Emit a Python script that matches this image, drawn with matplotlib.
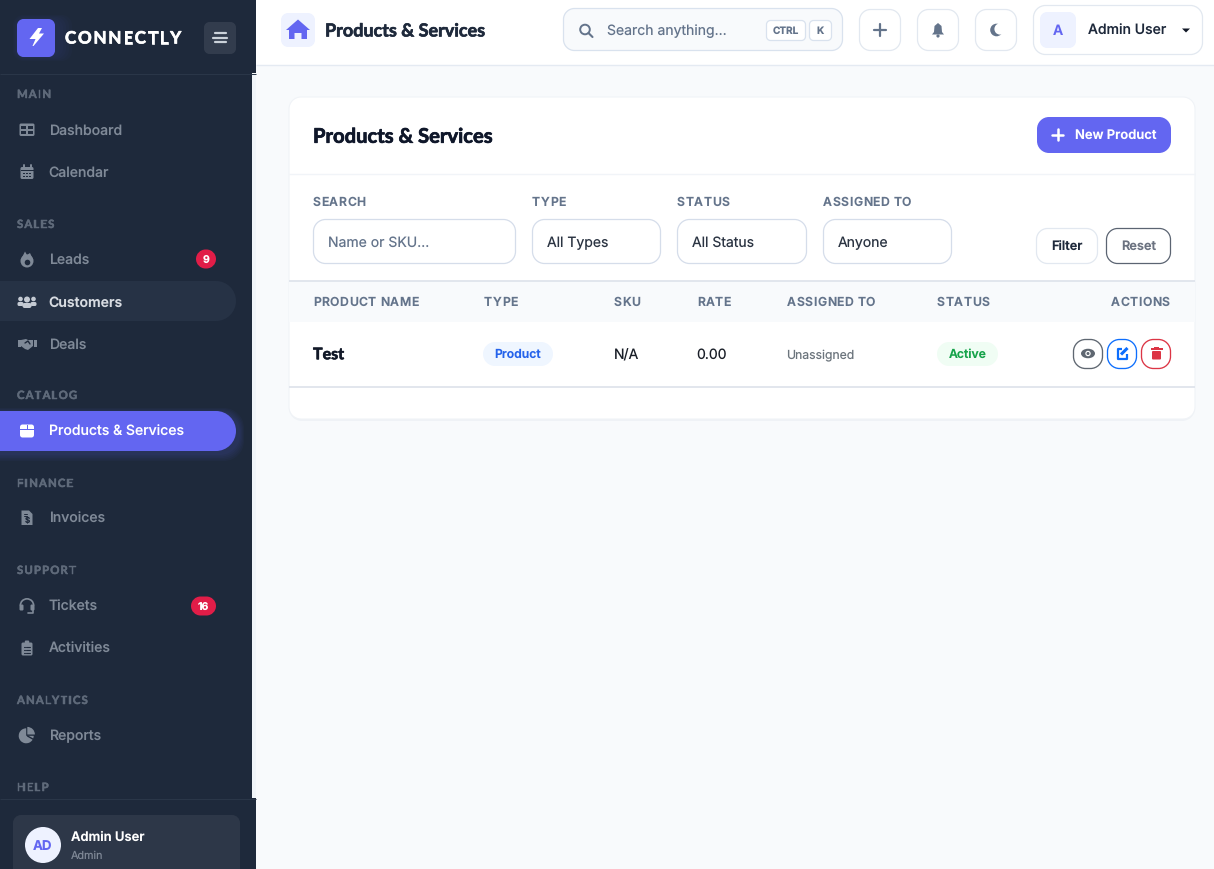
import matplotlib
matplotlib.use("Agg")
import numpy as np
import matplotlib.pyplot as plt
from matplotlib.patches import PathPatch, Rectangle, Circle, Polygon, Wedge, Ellipse
from matplotlib.path import Path
from matplotlib import font_manager as fm
from matplotlib.ft2font import LoadFlags
import matplotlib.patheffects as pe

plt.rcParams["text.hinting"] = "no_hinting"
plt.rcParams["text.hinting_factor"] = 1

# ---------- content ----------
brand = "CONNECTLY"
page_title = "Products & Services"
search_hint = "Search anything..."
kbd_keys = ["CTRL", "K"]
user_name = "Admin User"
user_role = "Admin"
sections = ["MAIN", "SALES", "CATALOG", "FINANCE", "SUPPORT", "ANALYTICS", "HELP"]
nav_labels = ["Dashboard", "Calendar", "Leads", "Customers", "Deals", "Products & Services",
              "Invoices", "Tickets", "Activities", "Reports"]
badge_values = {"Leads": "9", "Tickets": "16"}
filter_labels = ["SEARCH", "TYPE", "STATUS", "ASSIGNED TO"]
filter_values = ["Name or SKU...", "All Types", "All Status", "Anyone"]
table_columns = ["PRODUCT NAME", "TYPE", "SKU", "RATE", "ASSIGNED TO", "STATUS", "ACTIONS"]
row_values = ["Test", "Product", "N/A", "0.00", "Unassigned", "Active"]

# ---------- layout (pixels) ----------
section_y = [94, 224, 395, 483, 570, 700, 787]
nav_y = [130, 172, 259, 302, 344, 431, 518, 606, 648, 735]
filter_x0 = [313, 532, 677, 823]
filter_x1 = [516, 661, 807, 952]
col_x = [313, 484, 614, 697, 787, 937, 1170]

DARK = "#1e293b"
PRIMARY = "#6366f1"
MUTED = "#7f8997"
SECT = "#5f6a7a"
SLATE = "#64748b"
INK = "#1e293b"

fig = plt.figure(figsize=(12.14, 8.69), dpi=100, facecolor="#f8fafc")
ax = fig.add_axes([0, 0, 1, 1])
ax.set_xlim(0, 1214)
ax.set_ylim(869, 0)
ax.axis("off")

K = 0.5523


def box(x0, y0, x1, y1, r=0, fc="white", ec="none", lw=1.0, z=2, alpha=None):
    if r > 0:
        r = min(r, (x1 - x0) / 2, (y1 - y0) / 2)
        c = r * (1 - K)
        v = [(x0 + r, y0), (x1 - r, y0), (x1 - c, y0), (x1, y0 + c), (x1, y0 + r), (x1, y1 - r),
             (x1, y1 - c), (x1 - c, y1), (x1 - r, y1), (x0 + r, y1), (x0 + c, y1), (x0, y1 - c),
             (x0, y1 - r), (x0, y0 + r), (x0, y0 + c), (x0 + c, y0), (x0 + r, y0), (x0 + r, y0)]
        code = [Path.MOVETO, Path.LINETO, Path.CURVE4, Path.CURVE4, Path.CURVE4, Path.LINETO,
                Path.CURVE4, Path.CURVE4, Path.CURVE4, Path.LINETO, Path.CURVE4, Path.CURVE4, Path.CURVE4,
                Path.LINETO, Path.CURVE4, Path.CURVE4, Path.CURVE4, Path.CLOSEPOLY]
        p = PathPatch(Path(v, code), fc=fc, ec=ec, lw=lw, zorder=z, alpha=alpha)
    else:
        p = Rectangle((x0, y0), x1 - x0, y1 - y0, fc=fc, ec=ec, lw=lw, zorder=z, alpha=alpha)
    ax.add_patch(p)
    return p


def txt(x, y, s, px=14, color=INK, weight="normal", ha="left", family="Inter", z=6, bold=0):
    t = ax.text(x, y + 0.36 * px, s, fontsize=px * 0.72, color=color, fontweight=weight, ha=ha,
                va="baseline", family=family, zorder=z)
    if bold:
        t.set_path_effects([pe.withStroke(linewidth=bold, foreground=color)])
    return t


def spaced(x, y, s, px, color, weight="normal", gap=0.5, family="Inter", ha="left", bold=0, z=6):
    """Letter-spaced text: each glyph placed from the font's own advance."""
    font = fm.get_font(fm.findfont(fm.FontProperties(family=family, weight=weight)))
    font.set_size(px * 0.72, 100)
    adv = [font.load_char(ord(c), flags=LoadFlags.NO_HINTING).linearHoriAdvance / 65536.0 for c in s]
    total = sum(adv) + gap * (len(s) - 1)
    cur = x - total if ha == "right" else x
    for ch, a in zip(s, adv):
        if ch != " ":
            t = ax.text(cur, y, ch, fontsize=px * 0.72, color=color, fontweight=weight,
                        family=family, va="baseline", ha="left", zorder=z)
            if bold:
                t.set_path_effects([pe.withStroke(linewidth=bold, foreground=color)])
        cur += a + gap


def line(xs, ys, color, lw=1.0, z=5, cap="round"):
    ax.plot(xs, ys, color=color, lw=lw, zorder=z, solid_capstyle=cap, solid_joinstyle="round")


def poly(pts, fc, z=5):
    ax.add_patch(Polygon(pts, closed=True, fc=fc, ec="none", zorder=z))


def circ(x, y, r, fc="none", ec="none", lw=1.0, z=5):
    ax.add_patch(Circle((x, y), r, fc=fc, ec=ec, lw=lw, zorder=z))


# ---------- icons ----------
def ic_grid(cx, cy, c):
    box(cx - 7.5, cy - 6.5, cx + 7.5, cy + 6, 1.5, fc=c, z=5)
    for dx in (-5.7, 1):
        for dy in (-4.3, 0.8):
            box(cx + dx, cy + dy, cx + dx + 4.7, cy + dy + 3.5, 0, fc=DARK, z=5.1)


def ic_calendar(cx, cy, c):
    box(cx - 6.5, cy - 5, cx + 6.5, cy + 7, 1.5, fc=c, z=5)
    line([cx - 3.5, cx - 3.5], [cy - 7.5, cy - 4], c, 1.4)
    line([cx + 3.5, cx + 3.5], [cy - 7.5, cy - 4], c, 1.4)
    box(cx - 6.5, cy - 2, cx + 6.5, cy - 1, 0, fc=DARK, z=5.1)
    for dx in (-4, -0.8, 2.4):
        for dy in (0.5, 3.7):
            box(cx + dx, cy + dy, cx + dx + 1.7, cy + dy + 1.7, 0, fc=DARK, z=5.1)


def ic_fire(cx, cy, c):
    circ(cx, cy + 2, 6.5, fc=c)
    poly([(cx - 6.3, cy + 1), (cx - 2, cy - 7.5), (cx, cy - 4), (cx + 3, cy - 6), (cx + 6.3, cy + 1)], c)
    circ(cx + .5, cy + 3.5, 2.8, fc=DARK, z=5.1)


def ic_people(cx, cy, c):
    for dx in (-6.5, 6.5):
        circ(cx + dx, cy - 3, 2.3, fc=c)
        box(cx + dx - 3, cy, cx + dx + 3, cy + 4, 1.5, fc=c)
    circ(cx, cy - 2.5, 3, fc=c)
    box(cx - 4.5, cy + 1, cx + 4.5, cy + 6, 2, fc=c)


def ic_shake(cx, cy, c):
    box(cx - 9.5, cy - 4, cx - 6.5, cy + 3, 0, fc=c)
    box(cx + 6.5, cy - 4, cx + 9.5, cy + 3, 0, fc=c)
    poly([(cx - 6, cy - 4), (cx - 1, cy - 5), (cx + 1, cy - 4), (cx + 6, cy - 4), (cx + 6, cy + 2),
          (cx + 1, cy + 6), (cx - 2, cy + 5), (cx - 6, cy + 2)], c)
    line([cx - 2, cx + 1, cx + 3], [cy - 1, cy - 3, cy], DARK, 1.0, z=5.1)


def ic_box(cx, cy, c, bg=PRIMARY):
    box(cx - 7, cy - 6.5, cx + 7, cy + 6.5, 2.5, fc=c)
    box(cx - 7, cy - 2.2, cx + 7, cy - 1.4, 0, fc=bg, z=5.1)
    box(cx - .5, cy - 6.5, cx + .5, cy - 2, 0, fc=bg, z=5.1)


def ic_invoice(cx, cy, c):
    poly([(cx - 5.5, cy - 7.5), (cx + 2, cy - 7.5), (cx + 5.5, cy - 4), (cx + 5.5, cy + 7), (cx - 5.5, cy + 7)], c)
    txt(cx, cy + 2.5, "$", 8, DARK, "bold", ha="center", z=5.1)
    line([cx - 3.5, cx - .5], [cy - 4.5, cy - 4.5], DARK, .7, z=5.1)
    line([cx - 3.5, cx - .5], [cy - 2.5, cy - 2.5], DARK, .7, z=5.1)


def ic_headset(cx, cy, c):
    ax.add_patch(Wedge((cx, cy - .5), 7.5, 180, 360, width=1.7, fc=c, ec="none", zorder=5))
    box(cx - 7.5, cy - 1.5, cx - 3.5, cy + 4.5, 1.2, fc=c)
    box(cx + 3.5, cy - 1.5, cx + 7.5, cy + 4.5, 1.2, fc=c)
    line([cx + 6, cx + 6, cx + 1], [cy + 4, cy + 7, cy + 7], c, 1.2)


def ic_clip(cx, cy, c):
    box(cx - 5.5, cy - 5.5, cx + 5.5, cy + 7.5, 1.5, fc=c)
    box(cx - 2.2, cy - 7.5, cx + 2.2, cy - 3.5, 1, fc=c)
    for dy in (-1.2, 1.8, 4.8):
        line([cx - 3.2, cx - 2.4], [cy + dy, cy + dy], DARK, .8, z=5.1)
        line([cx - .7, cx + 3.2], [cy + dy, cy + dy], DARK, .8, z=5.1)


def ic_pie(cx, cy, c):
    ax.add_patch(Wedge((cx - .8, cy + .8), 7.5, 0, 270, fc=c, ec="none", zorder=5))
    ax.add_patch(Wedge((cx + .3, cy - .5), 7.6, 270, 360, fc=c, ec="none", zorder=5))
    line([cx + .5, cx + 7.5], [cy + 1, cy + 5], DARK, 1.0, z=5.2)


ICONS = [ic_grid, ic_calendar, ic_fire, ic_people, ic_shake, ic_box, ic_invoice, ic_headset, ic_clip, ic_pie]

# ---------- sidebar ----------
box(0, 0, 252, 869, fc=DARK, z=1)
box(252, 74, 256, 798, fc="#f1f5f9", z=1)
box(0, 0, 256, 73, fc=DARK, z=1.2)
box(0, 798, 256, 869, fc=DARK, z=1.2)
line([0, 256], [73.5, 73.5], "#2a3648", .72, z=1.3, cap="butt")
line([0, 256], [798.5, 798.5], "#2a3648", .72, z=1.3, cap="butt")

# logo
for i in range(5):
    box(17 - i, 19 - i, 60 + 3 * i, 57 + i, 10, fc=PRIMARY, z=1.5, alpha=.022)
box(17, 19, 55, 57, 6.5, fc=PRIMARY, z=2)
poly([(38, 28), (42, 28), (39, 33.5), (44, 33.5), (33.5, 46), (32.5, 46), (35.5, 39), (29.5, 39)], "white")
spaced(65, 43.5, brand, 17.0, "white", "bold", gap=1.75, family="Lato", bold=.5)
box(204, 22, 236, 54, 5.5, fc="#323c4d")
for dy, w in ((-4.6, 5.5), (0, 6.8), (4.6, 5.5)):
    line([220 - w, 220 + w], [37.7 + dy, 37.7 + dy], "#cbd2da", 1.6)

# sections and nav
for s, y in zip(sections, section_y):
    spaced(17, y + 4, s, 11.4, SECT, "bold", gap=1.35, family="Lato", bold=.35)

box(-30, 281, 236, 321, 20, fc="#263245", z=2)
for i in range(5):
    box(-30, 412 - i, 240 + i, 455 + i * 1.5, 20, fc=PRIMARY, z=1.9, alpha=.04)
box(-30, 411, 236, 451, 20, fc=PRIMARY, z=2)

for lab, y, ic in zip(nav_labels, nav_y, ICONS):
    active = lab == "Products & Services"
    cur = lab == "Customers"
    col = "white" if active else ("#d7dbe1" if cur else MUTED)
    ic_col = "white" if active else ("#c4cad3" if cur else MUTED)
    ic(27, y, ic_col)
    txt(48.6, y, lab, 14.0, col, "semibold" if cur else "medium")

for lab, (x0, x1) in zip(["Leads", "Tickets"], [(196, 216), (191, 216)]):
    y = nav_y[nav_labels.index(lab)]
    box(x0, y - 9.5, x1, y + 9.5, 9.5, fc="#e11d48", z=3)
    txt((x0 + x1) / 2, y, badge_values[lab], 10.5, "white", "bold", ha="center")

# footer
box(13, 815, 240, 880, 8, fc="#2d3748", z=2)
circ(43, 845, 18, fc="#eef2ff", z=3)
txt(43, 845, "AD", 13.3, PRIMARY, "bold", ha="center")
txt(71, 836, user_name, 13.0, "white", "semibold")
txt(71, 855, user_role, 10.8, "#7f8896")

# ---------- top bar ----------
box(256, 0, 1214, 65, fc="white", z=1)
line([256, 1214], [65, 65], "#e4eaf2", 1.0, z=1.5, cap="butt")
box(281, 13, 315, 47, 7, fc="#eef2ff")
poly([(298, 19.5), (310, 30), (307, 30), (307, 39), (301.5, 39), (301.5, 33), (294.5, 33), (294.5, 39),
      (289, 39), (289, 30), (286, 30)], PRIMARY)
txt(325, 30, page_title, 18.0, INK, "bold", family="Lato", bold=.45)

box(563.5, 8.5, 842.5, 50.5, 11, fc="#f8fafc", ec="#d9e2ee", lw=.9)
circ(585, 29.5, 4.8, ec=SLATE, lw=1.4)
line([588.5, 592.5], [33, 37], SLATE, 1.5)
txt(607, 30, search_hint, 14.0, SLATE)
box(766.5, 20.5, 805.5, 40.5, 4, fc="white", ec="#d9e2ee", lw=.9)
box(809.5, 20.5, 831.5, 40.5, 4, fc="white", ec="#d9e2ee", lw=.9)
txt(786, 30.5, kbd_keys[0], 10, SLATE, "bold", ha="center")
txt(820.5, 30.5, kbd_keys[1], 10, SLATE, "bold", ha="center")

for x in (859.5, 917.5, 975.5):
    box(x, 9.5, x + 41, 50.5, 11, fc="white", ec="#e2e8f0", lw=.9)
line([880, 880], [24, 36], SLATE, 1.6)
line([874, 886], [30, 30], SLATE, 1.6)
# bell
poly([(938, 23), (941.5, 26), (942, 32), (944, 34.5), (932, 34.5), (934, 32), (934.5, 26)], SLATE)
circ(938, 36, 1.6, fc=SLATE)
# moon
circ(996.5, 30, 6.3, fc=SLATE)
circ(1000, 29, 5.6, fc="white", z=5.1)

box(1033.5, 5.5, 1202.5, 54.5, 12, fc="white", ec="#e2e8f0", lw=.9)
box(1040, 12, 1076, 48, 7, fc="#eef2ff")
txt(1058, 30, "A", 14, PRIMARY, "semibold", ha="center")
txt(1088, 30, user_name, 14.0, INK, "medium")
poly([(1182, 28.5), (1190, 28.5), (1186, 32.5)], "#111827")

# ---------- card ----------
box(289, 98, 1195, 421, 13, fc="#e9edf3", z=1.4, alpha=.6)
box(289, 97, 1195, 419, 12, fc="white", ec="#f0f3f7", lw=.8, z=1.5)
txt(313, 135.5, page_title, 20.2, "#0f172a", "bold", family="Lato", bold=.5)
box(1037, 117, 1171, 153, 12, fc=PRIMARY)
line([1052, 1063], [134.5, 134.5], "white", 1.8)
line([1057.5, 1057.5], [129, 140], "white", 1.8)
txt(1075, 134.5, "New Product", 13.0, "white", "semibold")
line([289, 1195], [173.5, 173.5], "#f1f4f8", 1.0, cap="butt")

for lab, val, x0, x1 in zip(filter_labels, filter_values, filter_x0, filter_x1):
    spaced(x0, 206, lab, 12.2, SLATE, "semibold", gap=.5)
    box(x0 + .5, 219.5, x1 - .5, 263.5, 12, fc="white", ec="#d5ddea", lw=.9)
    txt(x0 + 15, 242, val, 14.0, SLATE if val.startswith("Name") else "#2b3442")

box(1036.5, 228.5, 1097.5, 263.5, 11, fc="white", ec="#e2e8f0", lw=.9)
txt(1067, 245.5, "Filter", 12.8, INK, "semibold", ha="center")
box(1106.5, 228.5, 1170.5, 263.5, 11, fc="white", ec="#5b6472", lw=.9)
txt(1138.5, 245.5, "Reset", 12.8, "#6b7280", "semibold", ha="center")

# table
line([289, 1195], [280.5, 280.5], "#dfe4ec", 1.3, cap="butt")
box(289, 281, 1195, 322, fc="#f8fafc", z=2)
for i, (lab, x) in enumerate(zip(table_columns, col_x)):
    spaced(x, 306, lab, 12.2, SLATE, "semibold", gap=.5, ha="right" if i == 6 else "left")

txt(col_x[0], 353.5, row_values[0], 16, "#111827", "bold", family="Lato", bold=.4)
box(483, 342, 553, 366, 12, fc="#eff6ff")
txt(518, 353.5, row_values[1], 12.2, "#2563eb", "semibold", ha="center")
txt(col_x[2] - .5, 354, row_values[2], 14.0, "#1a1f28")
txt(col_x[3] - .5, 354, row_values[3], 14.0, "#1a1f28")
txt(col_x[4] - .5, 354.5, row_values[4], 12.2, "#6c757d")
box(937, 342, 998, 366, 12, fc="#f0fdf4")
txt(967.5, 353.5, row_values[5], 12.2, "#16a34a", "semibold", ha="center")

# action buttons
ACT = ["#5f6771", "#0d6efd", "#dc3545"]
for x, c in zip([1073.5, 1107.5, 1141.5], ACT):
    box(x, 339.5, x + 29, 368.5, 12, fc="white", ec=c, lw=.95)
ax.add_patch(Ellipse((1088, 353.5), 14, 9.5, fc=ACT[0], ec="none", zorder=5))
circ(1088, 353.5, 2.7, fc="white", z=5.1)
circ(1088, 353.5, 1.5, fc=ACT[0], z=5.2)
# edit
line([1122, 1117.5, 1117.5, 1127, 1127], [348.5, 348.5, 358.5, 358.5, 354], ACT[1], 1.6, cap="butt")
line([1121, 1127.5], [354.5, 348], ACT[1], 2.2, cap="butt")
# trash
box(1152, 351, 1161, 359.5, 1, fc=ACT[2])
box(1150.5, 348, 1162.5, 350, 0, fc=ACT[2])
box(1154, 346.8, 1159, 348.5, 0, fc=ACT[2])

line([289, 1195], [386.5, 386.5], "#dfe4ec", 1.3, cap="butt")

fig.savefig("out.png", dpi=100, facecolor=fig.get_facecolor())
